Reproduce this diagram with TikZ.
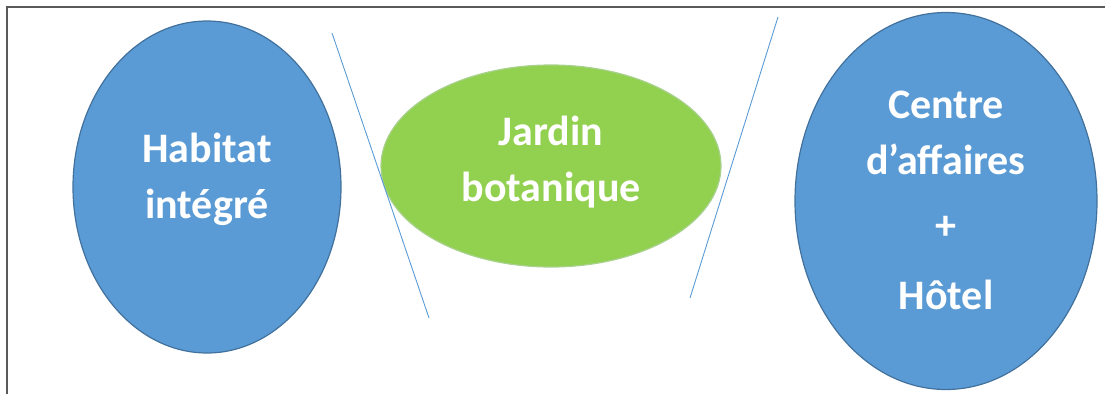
\documentclass[tikz,border=0pt]{standalone}
\usepackage{fontspec}
\setmainfont{Carlito}
\usetikzlibrary{shapes.geometric}
\definecolor{B}{RGB}{91, 155, 213}
\definecolor{BD}{RGB}{65, 113, 156}
\definecolor{G}{RGB}{146, 208, 80}
\definecolor{GD}{RGB}{169, 209, 142}
\definecolor{F}{RGB}{89, 89, 89}
\tikzset{
  zone/.style={ellipse, draw=BD, line width=1.2pt, fill=B, inner sep=0pt},
  garden/.style={zone, draw=GD, fill=G},
  caption/.style={text=white, align=center, font=\fontsize{42}{56}\selectfont\bfseries},
  sep/.style={B, line width=0.9pt}
}
\begin{document}
\begin{tikzpicture}[x=1pt, y=-1pt]
  \useasboundingbox (0,0) rectangle (1105,394);
  \draw[F, line width=2pt] (7,394) -- (7,7) -- (1105,7);
  \node[zone, minimum width=268pt, minimum height=332pt] (habitat) at (207,187) {};
  \node[garden, minimum width=340pt, minimum height=202pt] (jardin) at (551,166) {};
  \node[zone, minimum width=302pt, minimum height=377pt] (centre) at (946,201) {};
  \node[caption, yshift=8pt] (habitat text) at (habitat) {Habitat\\intégré};
  \node[caption, yshift=4pt] (jardin text) at (jardin) {Jardin\\botanique};
  \node[caption, yshift=1pt] (centre text) at (centre) {Centre\\d’affaires\\[9pt]+\\[14pt]Hôtel};
  \coordinate (s1a) at (332,33);
  \coordinate (s1b) at (429,318);
  \coordinate (s2a) at (778,17);
  \coordinate (s2b) at (690,298);
  \draw[sep] (s1a) -- (s1b);
  \draw[sep] (s2a) -- (s2b);
\end{tikzpicture}
\end{document}
